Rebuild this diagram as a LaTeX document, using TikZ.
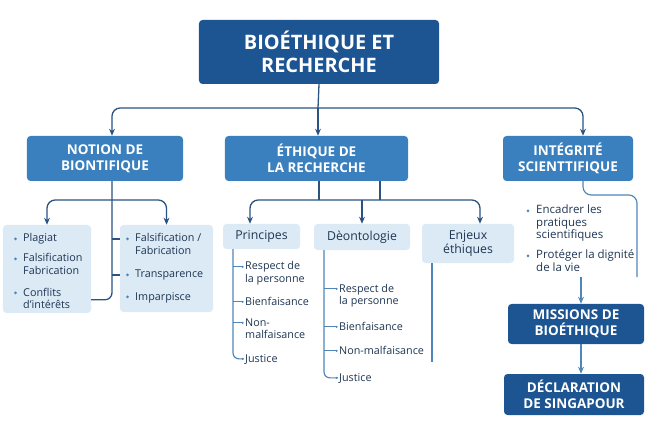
\documentclass[tikz,border=0pt]{standalone}
\usepackage{fontspec}
\setmainfont{Open Sans}
\usepackage{tikz}
\usetikzlibrary{calc,positioning,arrows.meta}

\definecolor{darkblue}{HTML}{1D5592}
\definecolor{midblue}{HTML}{3A80BE}
\definecolor{paleblue}{HTML}{DCEAF6}
\definecolor{linedark}{HTML}{2A5382}
\definecolor{linelight}{HTML}{4E86B9}
\definecolor{itemtext}{HTML}{1E3552}

% lines of a list item, baseline on the first line
\newcommand{\stacked}[1]{\begin{tabular}[t]{@{}l@{}}#1\end{tabular}}

\begin{document}
\begin{tikzpicture}[
	%	style def
    x=0.03cm, y=-0.03cm,
    rootbox/.style={rectangle, rounded corners=3pt, fill=darkblue, text=white, align=center,
        font=\bfseries\fontsize{17}{19.5}\selectfont},
    catbox/.style={rectangle, rounded corners=3pt, fill=midblue, text=white, align=center,
        minimum height=1.35cm, font=\bfseries\fontsize{11.5}{13.6}\selectfont},
    subbox/.style={rectangle, rounded corners=3pt, fill=paleblue, text=itemtext, align=center,
        font=\fontsize{10.5}{12}\selectfont},
    listbox/.style={rectangle, rounded corners=3pt, fill=paleblue},
    item/.style={inner sep=0pt, text=itemtext, anchor=base west,
        font=\fontsize{9.2}{10.8}\selectfont},
    conn/.style={draw=linedark, line width=1.1pt},
    lst/.style={draw=linelight, line width=1pt},
    bul/.style={fill=linelight}
    ]
	\useasboundingbox (0,0) rectangle (645,429);

	% main boxes
	\node[rootbox, minimum width=7.2cm, minimum height=1.92cm] (root) at (319,52) {BIOÉTHIQUE ET\\RECHERCHE};
	\node[catbox, minimum width=4.68cm] (notion) at (105,158.5) {NOTION DE\\BIONTIFIQUE};
	\node[catbox, minimum width=5.49cm] (ethique) at (316.5,158.5) {ÉTHIQUE DE\\LA RECHERCHE};
	\node[catbox, minimum width=3.9cm] (integ) at (568,158.5) {INTÉGRITÉ\\SCIENTTIFIQUE};

	% boxes under notion
	\node[listbox, minimum width=2.64cm, minimum height=2.64cm] (leftbox) at (47,269) {};
	\node[listbox, minimum width=2.79cm, minimum height=2.61cm] (rightbox) at (166.5,268.5) {};
	\node[item] (lb1) at (23,242) {Plagiat};
	\node[item] (lb2) at (23,262) {\stacked{Falsification\\Fabrication}};
	\node[item] (lb3) at (23,296) {\stacked{Conflits\\d'intérêts}};
	\node[item] (rb1) at (135,242) {\stacked{Falsification /\\Fabrication}};
	\node[item] (rb2) at (135,278) {Transparence};
	\node[item] (rb3) at (135,300) {Imparpisce};
	\foreach \n in {lb1,lb2,lb3,rb1,rb2,rb3}
		\fill[bul] ([xshift=-7.5*0.03cm]\n.mid west) circle (1.2pt);

	% boxes under ethique
	\node[subbox, minimum width=2.31cm, minimum height=0.75cm] (princ) at (261.5,236.5) {Principes};
	\node[subbox, minimum width=2.88cm, minimum height=0.78cm] (deon) at (362,237) {Dèontologie};
	\node[subbox, minimum width=2.76cm, minimum height=1.17cm] (enjeux) at (468,243.5) {Enjeux\\éthiques};
	\node[item] (p1) at (245,270) {\stacked{Respect de\\la personne}};
	\node[item] (p2) at (245,305) {Bienfaisance};
	\node[item] (p3) at (245,326) {\stacked{Non-\\malfaisance}};
	\node[item] (p4) at (245,362) {Justice};
	\node[item] (d1) at (339,292) {\stacked{Respect de\\la personne}};
	\node[item] (d2) at (339,330) {Bienfaisance};
	\node[item] (d3) at (339,354) {Non-malfaisance};
	\node[item] (d4) at (339,381) {Justice};

	% integrite column
	\node[item, font=\fontsize{9.8}{10.4}\selectfont] (i1) at (536,214) {\stacked{Encadrer les\\pratiques\\scientifiques}};
	\node[item, font=\fontsize{9.8}{10.4}\selectfont] (i2) at (536,259) {\stacked{Protéger la dignité\\de la vie}};
	\foreach \n in {i1,i2}
		\fill[bul] ([xshift=-8*0.03cm]\n.mid west) circle (1.2pt);
	\node[rootbox, font=\bfseries\fontsize{11.5}{13.6}\selectfont, minimum width=4.08cm, minimum height=1.2cm] (missions) at (576,324) {MISSIONS DE\\BIOÉTHIQUE};
	\node[rootbox, font=\bfseries\fontsize{11.5}{13.6}\selectfont, minimum width=4.2cm, minimum height=1.23cm] (decl) at (574,394.5) {DÉCLARATION\\DE SINGAPOUR};

	% helper points
	\coordinate (hub) at (318,108);
	\coordinate (nx) at (112,0);
	\coordinate (ix) at (583,0);
	\coordinate (nsplit) at (112,200);
	\coordinate (esplit) at (319,200);
	\coordinate (esplit2) at (380,200);
	\coordinate (px) at (250,0);
	\coordinate (ex) at (480,0);
	\coordinate (pl) at (233,0);
	\coordinate (dl) at (324,0);
	\coordinate (ejend) at (432,362);
	\coordinate (ibend) at (637,195);
	\coordinate (iend) at (637,277);
	\coordinate (mtop) at (581,277);

	% top level connections
	\draw[conn] (root.south) -- (hub);
	\draw[conn,-{Stealth[length=6pt,width=5pt]}] (hub) -- (ethique.north -| hub);
	\draw[conn,-{Stealth[length=6pt,width=5pt]},rounded corners=7pt] (hub) -| (notion.north -| nx);
	\draw[conn,-{Stealth[length=6pt,width=5pt]},rounded corners=7pt] (hub) -| (integ.north -| ix);

	% notion branches
	\draw[conn,rounded corners=6pt] (notion.south -| nx) |- (leftbox.east |- lb3.west);
	\draw[conn,-{Stealth[length=6pt,width=5pt]},rounded corners=7pt] (nsplit) -| (leftbox.north);
	\draw[conn,-{Stealth[length=6pt,width=5pt]},rounded corners=7pt] (nsplit) -| (rightbox.north);
	\draw[conn] (nx |- rb1.mid west) -- (rightbox.west |- rb1.mid west);
	\draw[conn] (nx |- rb2.mid west) -- (rightbox.west |- rb2.mid west);

	% ethique branches
	\draw[conn] (ethique.south -| esplit) -- (esplit);
	\draw[conn] (ethique.south -| esplit2) -- (esplit2);
	\draw[conn,-{Stealth[length=6pt,width=5pt]},rounded corners=7pt] (esplit) -| (princ.north -| px);
	\draw[conn,-{Stealth[length=6pt,width=5pt]}] (esplit -| deon.north) -- (deon.north);
	\draw[conn,-{Stealth[length=6pt,width=5pt]},rounded corners=7pt] (esplit) -| (enjeux.north -| ex);

	% lists
	\draw[lst,rounded corners=5pt] (princ.south -| pl) |- ([xshift=-1pt]p4.mid west);
	\foreach \n in {p1,p2,p3}
		\draw[lst] (pl |- \n.mid west) -- ([xshift=-2pt]\n.mid west);
	\draw[lst,rounded corners=5pt] (deon.south -| dl) |- ([xshift=-1pt]d4.mid west);
	\foreach \n in {d1,d2,d3}
		\draw[lst] (dl |- \n.mid west) -- ([xshift=-2pt]\n.mid west);
	\foreach \n in {p1,p2,p3,p4,d1,d2,d3,d4}
		\fill[bul] ([xshift=-2pt]\n.mid west) circle (1pt);
	\draw[lst] (enjeux.south -| ejend) -- (ejend);

	% integrite path
	\draw[lst,rounded corners=7pt] (integ.south -| ix) |- (ibend) -- (iend);
	\draw[lst,-{Stealth[length=6pt,width=5pt]}] (mtop) -- (missions.north -| mtop);
	\draw[lst,-{Stealth[length=6pt,width=5pt]}] (missions.south -| mtop) -- (decl.north -| mtop);

\end{tikzpicture}
\end{document}
